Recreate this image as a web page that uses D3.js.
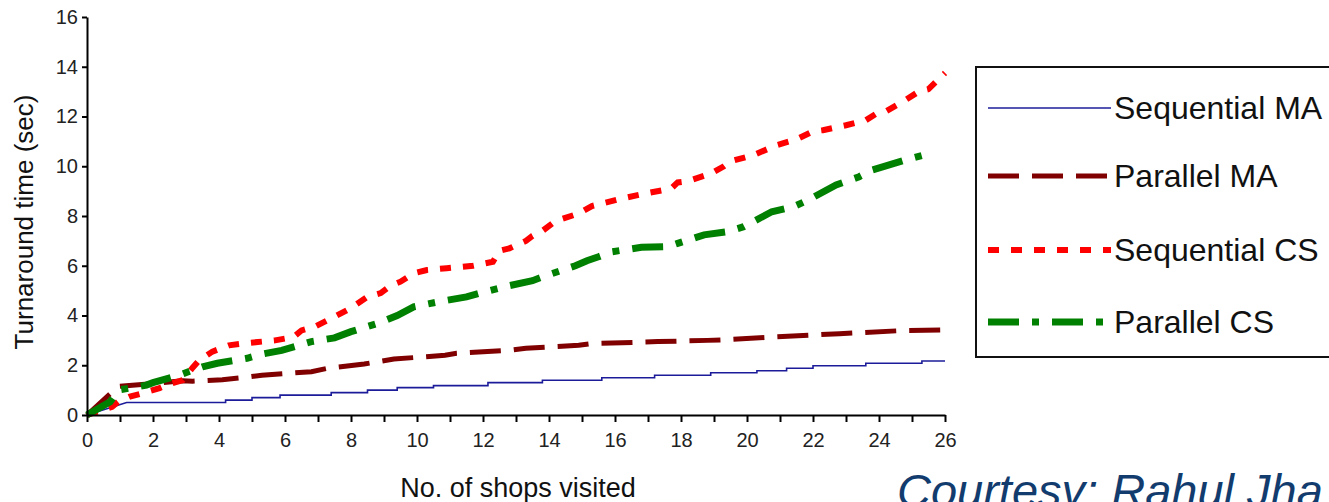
<!DOCTYPE html>
<html>
<head>
<meta charset="utf-8">
<script src="https://cdn.jsdelivr.net/npm/d3@7"></script>
<style>
  html, body { margin: 0; padding: 0; background: #fff; }
  svg { display: block; }
  text { font-family: "Liberation Sans", Arial, sans-serif; }
</style>
</head>
<body>
<svg id="chart" width="1329" height="502"></svg>
<script>
// Turnaround time vs. number of shops visited, four strategies.
const seriesNames = ["Sequential MA", "Parallel MA", "Sequential CS", "Parallel CS"];

// [shops visited, turnaround time (sec)]
const sequentialMA = [
  [0,0],[1.2,0.5],[4.2,0.5],[4.2,0.6],[5.0,0.6],[5.0,0.7],[5.85,0.7],[5.85,0.8],
  [7.4,0.8],[7.4,0.9],[8.5,0.9],[8.5,1.0],[9.4,1.0],[9.4,1.1],[10.5,1.1],[10.5,1.18],
  [12.15,1.18],[12.15,1.3],[13.8,1.3],[13.8,1.4],[15.6,1.4],[15.6,1.5],[17.2,1.5],[17.2,1.6],
  [18.9,1.6],[18.9,1.7],[20.3,1.7],[20.3,1.78],[21.2,1.78],[21.2,1.88],[22.0,1.88],[22.0,1.98],
  [23.6,1.98],[23.6,2.08],[25.3,2.08],[25.3,2.17],[26,2.17]
];
const parallelMA = [
  [0,0],[0.7,0.85],[0.95,1.15],[1.85,1.25],[2.3,1.3],[2.9,1.38],[3.2,1.36],[4.1,1.42],
  [4.85,1.52],[5.3,1.6],[6.8,1.74],[7.3,1.88],[8.4,2.05],[9.3,2.25],[10.85,2.4],[11.2,2.48],
  [12.8,2.6],[13.3,2.68],[14.9,2.8],[15.3,2.87],[17.3,2.95],[18.8,3.0],[19.2,3.02],[20.9,3.14],
  [22.8,3.27],[24.8,3.4],[26,3.42]
];
const sequentialCS = [
  [0,0],[0.76,0.33],[0.94,0.53],[1.3,0.74],[1.7,0.88],[2.2,1.08],[2.5,1.25],[2.9,1.4],
  [3.2,1.9],[3.4,2.2],[3.8,2.55],[4.3,2.8],[4.9,2.9],[5.7,3.0],[6.25,3.13],[6.5,3.4],
  [6.9,3.55],[7.5,3.95],[8.0,4.3],[8.5,4.75],[8.9,4.9],[9.2,5.2],[9.5,5.36],[9.9,5.7],
  [10.3,5.83],[10.9,5.9],[11.7,6.0],[12.3,6.16],[12.5,6.6],[12.8,6.7],[13.3,7.0],[13.5,7.2],
  [13.8,7.4],[14.2,7.8],[14.9,8.1],[15.3,8.4],[15.6,8.5],[16.2,8.7],[16.9,8.9],[17.7,9.1],
  [17.9,9.35],[18.2,9.4],[18.9,9.7],[19.3,10.0],[19.5,10.2],[20.2,10.45],[20.9,10.85],[21.5,11.08],
  [22.0,11.4],[22.3,11.45],[23.0,11.65],[23.6,11.85],[23.9,12.1],[24.2,12.2],[24.8,12.66],[25.2,13.0],
  [25.5,13.1],[26,13.75]
];
const parallelCS = [
  [0,0],[0.7,0.53],[0.94,1.0],[1.8,1.2],[2.0,1.3],[2.8,1.6],[3.2,1.8],[3.5,1.94],
  [3.95,2.08],[4.85,2.28],[5.3,2.45],[5.9,2.6],[6.8,2.95],[7.5,3.1],[8.0,3.35],[8.8,3.68],
  [9.4,4.0],[9.9,4.35],[10.85,4.6],[11.5,4.75],[11.9,4.9],[12.8,5.2],[13.5,5.4],[13.9,5.6],
  [14.8,6.0],[15.15,6.2],[15.5,6.36],[15.9,6.56],[16.8,6.74],[17.6,6.77],[17.9,6.9],[18.7,7.24],
  [19.4,7.37],[19.9,7.57],[20.75,8.17],[21.4,8.37],[21.85,8.64],[22.7,9.25],[23.4,9.58],[23.8,9.85],
  [24.8,10.25],[25.5,10.5]
];

const xTicks = d3.range(0, 27);          // minor + major ticks, every shop
const xTickLabels = ["0","2","4","6","8","10","12","14","16","18","20","22","24","26"];
const yTicks = [0, 2, 4, 6, 8, 10, 12, 14, 16];

const styles = [
  { color: "#1c1c9a", width: 1.6, dash: null },
  { color: "#800000", width: 5,   dash: "31,13" },
  { color: "#ff0000", width: 6,   dash: "11,12" },
  { color: "#008000", width: 7,   dash: "31,13,7,13" }
];
const seriesData = [sequentialMA, parallelMA, sequentialCS, parallelCS];

const svg = d3.select("#chart");
const x = d3.scaleLinear().domain([0, 26]).range([87, 945]);
const y = d3.scaleLinear().domain([0, 16]).range([415, 17]);

// Lines
const line = d3.line().x(d => x(d[0])).y(d => y(d[1]));
const plot = svg.append("g");
seriesData.forEach((data, i) => {
  const s = styles[i];
  plot.append("path")
    .attr("d", line(data))
    .attr("fill", "none")
    .attr("stroke", s.color)
    .attr("stroke-width", s.width)
    .attr("stroke-dasharray", s.dash)
    .attr("stroke-linejoin", "miter")
    .attr("stroke-linecap", "butt");
});

// Axes
const yAxis = svg.append("g")
  .attr("transform", `translate(${x(0)},0)`)
  .call(d3.axisLeft(y).tickValues(yTicks).tickSize(5).tickSizeOuter(0).tickPadding(4));
const xAxis = svg.append("g")
  .attr("transform", `translate(0,${y(0)})`)
  .call(d3.axisBottom(x).tickValues(xTicks).tickSize(7).tickSizeOuter(0).tickPadding(11)
    .tickFormat(d => d % 2 === 0 ? xTickLabels[d / 2] : ""));
[xAxis, yAxis].forEach(g => {
  g.select(".domain").attr("stroke", "#000").attr("stroke-width", 2);
  g.selectAll(".tick line").attr("stroke", "#000").attr("stroke-width", 2);
  g.selectAll(".tick text").attr("fill", "#222").style("font-size", "20px")
    .style("font-family", "'Liberation Sans', Arial, sans-serif");
});

// Axis titles
svg.append("text")
  .attr("transform", `translate(33,222) rotate(-90)`)
  .attr("text-anchor", "middle")
  .style("font-size", "26px")
  .attr("fill", "#111")
  .text("Turnaround time (sec)");
svg.append("text")
  .attr("x", 518).attr("y", 497)
  .attr("text-anchor", "middle")
  .style("font-size", "27px")
  .attr("fill", "#111")
  .text("No. of shops visited");

// Legend
const legend = svg.append("g");
legend.append("rect")
  .attr("x", 976).attr("y", 67).attr("width", 400).attr("height", 290)
  .attr("fill", "#fff").attr("stroke", "#111").attr("stroke-width", 2);
const legendRows = [108, 176, 250, 322];
seriesNames.forEach((name, i) => {
  const s = styles[i];
  legend.append("line")
    .attr("x1", 988).attr("x2", 1111)
    .attr("y1", legendRows[i]).attr("y2", legendRows[i])
    .attr("stroke", s.color)
    .attr("stroke-width", s.width)
    .attr("stroke-dasharray", s.dash);
  legend.append("text")
    .attr("x", 1114).attr("y", legendRows[i])
    .attr("dy", "0.35em")
    .style("font-size", "32px")
    .attr("fill", "#111")
    .text(name);
});

// Credit line
svg.append("text")
  .attr("x", 897).attr("y", 507)
  .style("font-size", "47px")
  .style("font-style", "italic")
  .attr("fill", "#123c6e")
  .text("Courtesy: Rahul Jha");
</script>
</body>
</html>
